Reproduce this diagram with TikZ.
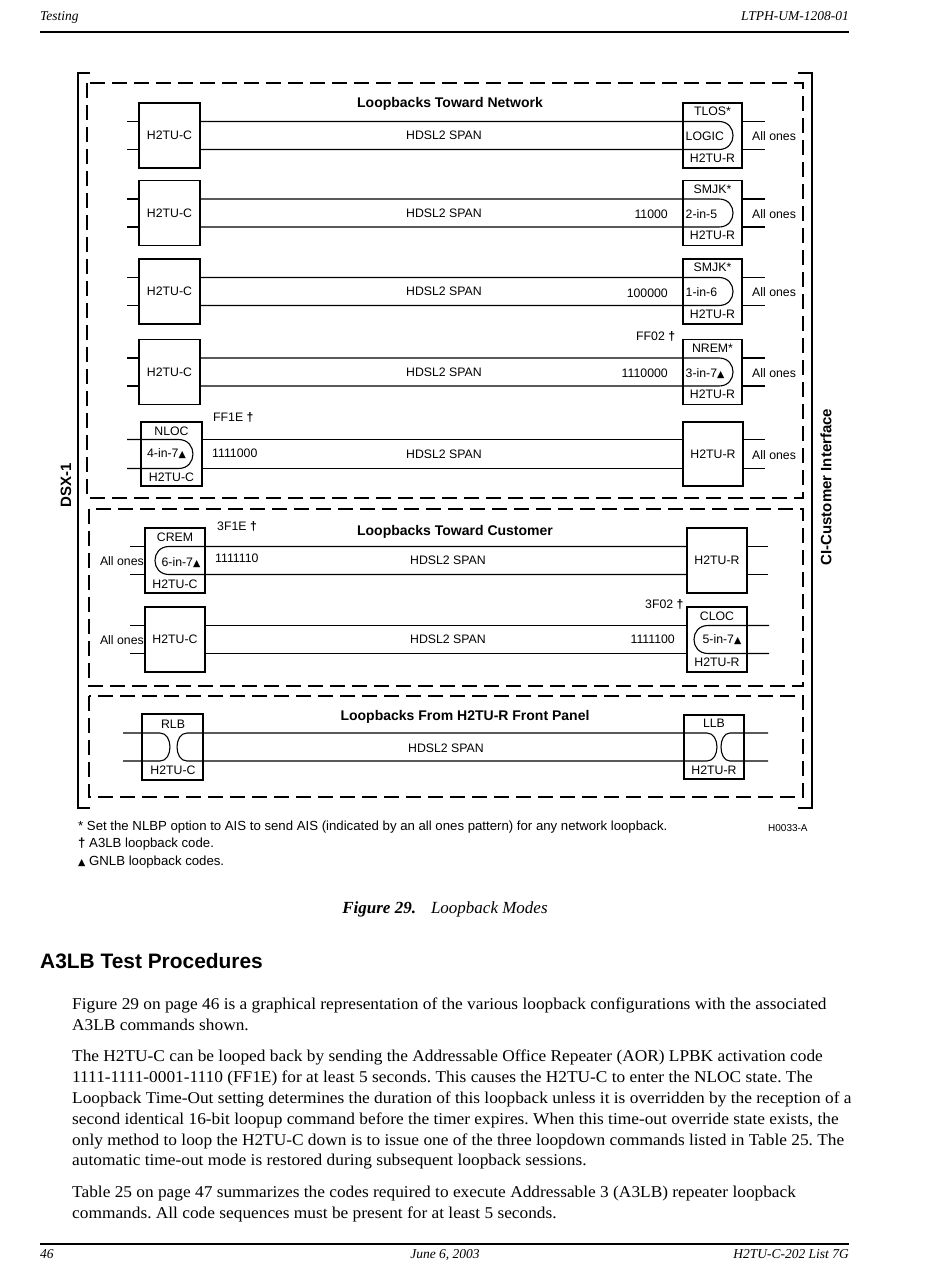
\documentclass[tikz,border=0pt]{standalone}
\usepackage{fontspec}
\setmainfont{Liberation Serif}
\newfontfamily\bodyfont[FakeStretch=1.05]{Liberation Serif}
\newfontfamily\arial{Liberation Sans}
\newfontfamily\dejavu{DejaVu Sans}
\newcommand\mytri{{\dejavu\fontsize{9.5}{9}\selectfont ▲}}
\newcommand\mydag{{\bfseries †}}
\frenchspacing
\begin{document}
\begin{tikzpicture}[x=1pt,y=-1pt,
 unit/.style={draw, line width=1.5pt, minimum width=60pt, minimum height=65pt, inner sep=0pt, outer sep=0pt},
 wire/.style={line width=1.1pt},
 dbox/.style={draw, line width=1.2pt, dash pattern=on 15pt off 7pt},
 bracket/.style={line width=1.4pt},
 lab/.style={font=\arial\fontsize{12.3}{14}\selectfont, inner sep=0pt, text height=8.9pt, text depth=0pt},
 ttl/.style={font=\arial\bfseries\fontsize{14}{16}\selectfont, inner sep=0pt, text height=10pt, text depth=0pt},
 side/.style={font=\arial\bfseries\fontsize{15}{17}\selectfont, inner sep=0pt, rotate=90},
 foot/.style={font=\arial\fontsize{13.2}{15}\selectfont, inner sep=0pt, anchor=base west},
 body/.style={font=\bodyfont\fontsize{16.5}{19}\selectfont, inner sep=0pt, anchor=base west},
 hdr/.style={font=\itshape\fontsize{13.5}{16}\selectfont, inner sep=0pt}]
\useasboundingbox (0,0) rectangle (950,1261);
\fill[white] (0,0) rectangle (950,1261);

% header / footer
\node[hdr, anchor=base west] (hl) at (40,20) {Testing};
\node[hdr, anchor=base east] (hr) at (849,20) {LTPH-UM-1208-01};
\draw[line width=2pt] (40,32) -- (849,32);
\draw[line width=2pt] (40,1244) -- (849,1244);
\node[hdr, anchor=base west] (fl) at (40,1258) {46};
\node[hdr, anchor=base] (fc) at (445,1258) {June 6, 2003};
\node[hdr, anchor=base east] (fr) at (849,1258) {H2TU-C-202 List 7G};

% brackets and dashed groups
\draw[bracket] (90,73) -- (78,73) -- (78,808) -- (90,808);
\draw[bracket] (798,73) -- (812,73) -- (812,808) -- (798,808);
\draw[dbox] (87,83) rectangle (803,498);
\draw[dbox] (89,509) rectangle (803,686);
\draw[dbox] (89,696) rectangle (803,797);
\node[side] (dsx) at (66,485) {DSX-1};
\node[side] (ci) at (826,487) {CI-Customer Interface};

\node[ttl] (tt1) at (450,102) {Loopbacks Toward Network};
\node[ttl] (tt2) at (455,530) {Loopbacks Toward Customer};
\node[ttl] (tt3) at (465,715) {Loopbacks From H2TU-R Front Panel};

% rows 1-4
\foreach \n/\y/\top/\mid/\num in {1/135.5/TLOS*/LOGIC/{}, 2/213/SMJK*/2-in-5/11000, 3/291.5/SMJK*/1-in-6/100000, 4/372/NREM*/3-in-7\mytri/1110000} {
  \node[unit, minimum width=61pt] (L\n) at (169.5,\y) {};
  \node[unit, minimum width=59pt] (R\n) at (712.5,\y) {};
  \node[lab] (Lt\n) at (L\n) {H2TU-C};
  \draw[wire] ([yshift=14pt]L\n.west) -- ++(-12,0);
  \draw[wire] ([yshift=-14pt]L\n.west) -- ++(-12,0);
  \draw[wire] ([yshift=14pt]R\n.east) -- ++(23,0);
  \draw[wire] ([yshift=-14pt]R\n.east) -- ++(23,0);
  \draw[wire] ([yshift=14pt]L\n.east) -- ([xshift=6.5pt,yshift=14pt]R\n.center) .. controls +(18.7,0) and +(18.7,0) .. ([xshift=6.5pt,yshift=-14pt]R\n.center) -- ([yshift=-14pt]L\n.east);
  \node[lab] (sp\n) at (444,\y) {HDSL2 SPAN};
  \node[lab, anchor=west] (ao\n) at (752,\y+1) {All ones};
  \node[lab] (Rb\n) at ([yshift=-22.5pt]R\n.center) {H2TU-R};
  \node[lab] (Rt\n) at ([yshift=24pt]R\n.center) {\top};
  \node[lab, anchor=west] (Rm\n) at (685.5,\y+1) {\mid};
  \node[lab, anchor=east] (nm\n) at (668,\y+1.5) {\num};
}
\node[lab, anchor=west] (ff02) at (636,336) {FF02 \mydag};

% row 5
\node[unit, minimum width=61pt, minimum height=64pt] (L5) at (171.5,454) {};
\node[unit, minimum width=60pt, minimum height=64pt] (R5) at (713,454) {};
\draw[wire] ([xshift=-14pt,yshift=14.5pt]L5.west) -- ([xshift=7pt,yshift=14.5pt]L5.center) .. controls +(19.3,0) and +(19.3,0) .. ([xshift=7pt,yshift=-14.5pt]L5.center) -- ([xshift=-14pt,yshift=-14.5pt]L5.west);
\draw[wire] ([yshift=14.5pt]L5.east) -- ([yshift=14.5pt]R5.west);
\draw[wire] ([yshift=-14.5pt]L5.east) -- ([yshift=-14.5pt]R5.west);
\draw[wire] ([yshift=14.5pt]R5.east) -- ++(22,0);
\draw[wire] ([yshift=-14.5pt]R5.east) -- ++(22,0);
\node[lab] (nloc) at (171.5,431) {NLOC};
\node[lab] (m5) at (166.5,453) {4-in-7\mytri};
\node[lab] (b5) at (171.5,477) {H2TU-C};
\node[lab, anchor=west] (ff1e) at (213,417) {FF1E \mydag};
\node[lab, anchor=west] (n5) at (212,453) {1111000};
\node[lab] (sp5) at (444,454) {HDSL2 SPAN};
\node[lab] (r5t) at (R5) {H2TU-R};
\node[lab, anchor=west] (ao5) at (752,455) {All ones};

% row 6
\node[unit] (L6) at (175,560.5) {};
\node[unit] (R6) at (717,560.5) {};
\draw[wire] ([yshift=14pt]R6.west) -- ([xshift=-6pt,yshift=14pt]L6.center) .. controls +(-18.7,0) and +(-18.7,0) .. ([xshift=-6pt,yshift=-14pt]L6.center) -- ([yshift=-14pt]R6.west);
\draw[wire] ([yshift=14pt]L6.west) -- ++(-15,0);
\draw[wire] ([yshift=-14pt]L6.west) -- ++(-15,0);
\draw[wire] ([yshift=14pt]R6.east) -- ++(21,0);
\draw[wire] ([yshift=-14pt]R6.east) -- ++(21,0);
\node[lab] (crem) at (175,537) {CREM};
\node[lab] (m6) at (181,562) {6-in-7\mytri};
\node[lab] (b6) at (175,584) {H2TU-C};
\node[lab, anchor=east] (ao6) at (144,561) {All ones};
\node[lab, anchor=west] (f3f1e) at (217,526) {3F1E \mydag};
\node[lab, anchor=west] (n6) at (215,558) {1111110};
\node[lab] (sp6) at (448,560) {HDSL2 SPAN};
\node[lab] (r6t) at (R6) {H2TU-R};

% row 7
\node[unit] (L7) at (175,639.5) {};
\node[unit] (R7) at (717,639.5) {};
\draw[wire] ([yshift=14pt]L7.east) -- ([yshift=14pt]R7.west);
\draw[wire] ([yshift=-14pt]L7.east) -- ([yshift=-14pt]R7.west);
\draw[wire] ([yshift=14pt]L7.west) -- ++(-15,0);
\draw[wire] ([yshift=-14pt]L7.west) -- ++(-15,0);
\draw[wire] ([xshift=22pt,yshift=14pt]R7.east) -- ([xshift=-9pt,yshift=14pt]R7.center) .. controls +(-18.7,0) and +(-18.7,0) .. ([xshift=-9pt,yshift=-14pt]R7.center) -- ([xshift=22pt,yshift=-14pt]R7.east);
\node[lab] (l7t) at (L7) {H2TU-C};
\node[lab, anchor=east] (ao7) at (144,640) {All ones};
\node[lab] (cloc) at (717,616) {CLOC};
\node[lab] (m7) at (722,639) {5-in-7\mytri};
\node[lab] (b7) at (717,662) {H2TU-R};
\node[lab, anchor=east] (n7) at (675,639) {1111100};
\node[lab, anchor=west] (f3f02) at (645,604) {3F02 \mydag};
\node[lab] (sp7) at (448,639) {HDSL2 SPAN};

% row 8
\node[unit, minimum width=61pt, minimum height=66pt] (L8) at (172.5,747) {};
\node[unit, minimum width=60pt, minimum height=64pt] (R8) at (714,747) {};
\draw[wire] ([xshift=-19pt,yshift=14pt]L8.west) -- ([xshift=-12.5pt,yshift=14pt]L8.center) .. controls +(13.3,0) and +(13.3,0) .. ([xshift=-12.5pt,yshift=-14pt]L8.center) -- ([xshift=-19pt,yshift=-14pt]L8.west);
\draw[wire] ([xshift=14.5pt,yshift=14pt]L8.center) -- ([xshift=-7pt,yshift=14pt]R8.center) .. controls +(13.3,0) and +(13.3,0) .. ([xshift=-7pt,yshift=-14pt]R8.center) -- ([xshift=14.5pt,yshift=-14pt]L8.center) .. controls +(-13.3,0) and +(-13.3,0) .. cycle;
\draw[wire] ([xshift=24pt,yshift=14pt]R8.east) -- ([xshift=16pt,yshift=14pt]R8.center) .. controls +(-12,0) and +(-12,0) .. ([xshift=16pt,yshift=-14pt]R8.center) -- ([xshift=24pt,yshift=-14pt]R8.east);
\node[lab] (rlb) at (173,724) {RLB};
\node[lab] (b8l) at (173,770) {H2TU-C};
\node[lab] (llb) at (714,723) {LLB};
\node[lab] (b8r) at (714,770) {H2TU-R};
\node[lab] (sp8) at (446,748) {HDSL2 SPAN};

% footnotes
\node[foot] (fn1) at (78,830) {* Set the NLBP option to AIS to send AIS (indicated by an all ones pattern) for any network loopback.};
\node[foot] (fn2) at (78,847) {\mydag\ A3LB loopback code.};
\node[foot] (fn3) at (78,865) {\mytri\ GNLB loopback codes.};
\node[foot, font=\arial\fontsize{10}{12}\selectfont] (hid) at (768,831) {H0033-A};

% caption, heading, body
\node[inner sep=0pt, anchor=base, font=\fontsize{17}{20}\selectfont] (cap) at (445,913) {\textbf{\textit{Figure 29.}}\hspace{15pt}\textit{Loopback Modes}};
\node[inner sep=0pt, anchor=base west, font=\arial\bfseries\fontsize{20.9}{24}\selectfont] (hd) at (40,968) {A3LB Test Procedures};
\node[body] (b1) at (72,1009) {Figure 29 on page 46 is a graphical representation of the various loopback configurations with the associated};
\node[body] (b2) at (72,1030) {A3LB commands shown.};
\node[body] (b3) at (72,1061) {The H2TU-C can be looped back by sending the Addressable Office Repeater (AOR) LPBK activation code};
\node[body] (b4) at (72,1082) {1111-1111-0001-1110 (FF1E) for at least 5 seconds. This causes the H2TU-C to enter the NLOC state. The};
\node[body] (b5) at (72,1103) {Loopback Time-Out setting determines the duration of this loopback unless it is overridden by the reception of a};
\node[body] (b6) at (72,1124) {second identical 16-bit loopup command before the timer expires. When this time-out override state exists, the};
\node[body] (b7) at (72,1145) {only method to loop the H2TU-C down is to issue one of the three loopdown commands listed in Table 25. The};
\node[body] (b8) at (72,1165) {automatic time-out mode is restored during subsequent loopback sessions.};
\node[body] (b9) at (72,1197) {Table 25 on page 47 summarizes the codes required to execute Addressable 3 (A3LB) repeater loopback};
\node[body] (b10) at (72,1218) {commands. All code sequences must be present for at least 5 seconds.};
\end{tikzpicture}
\end{document}
